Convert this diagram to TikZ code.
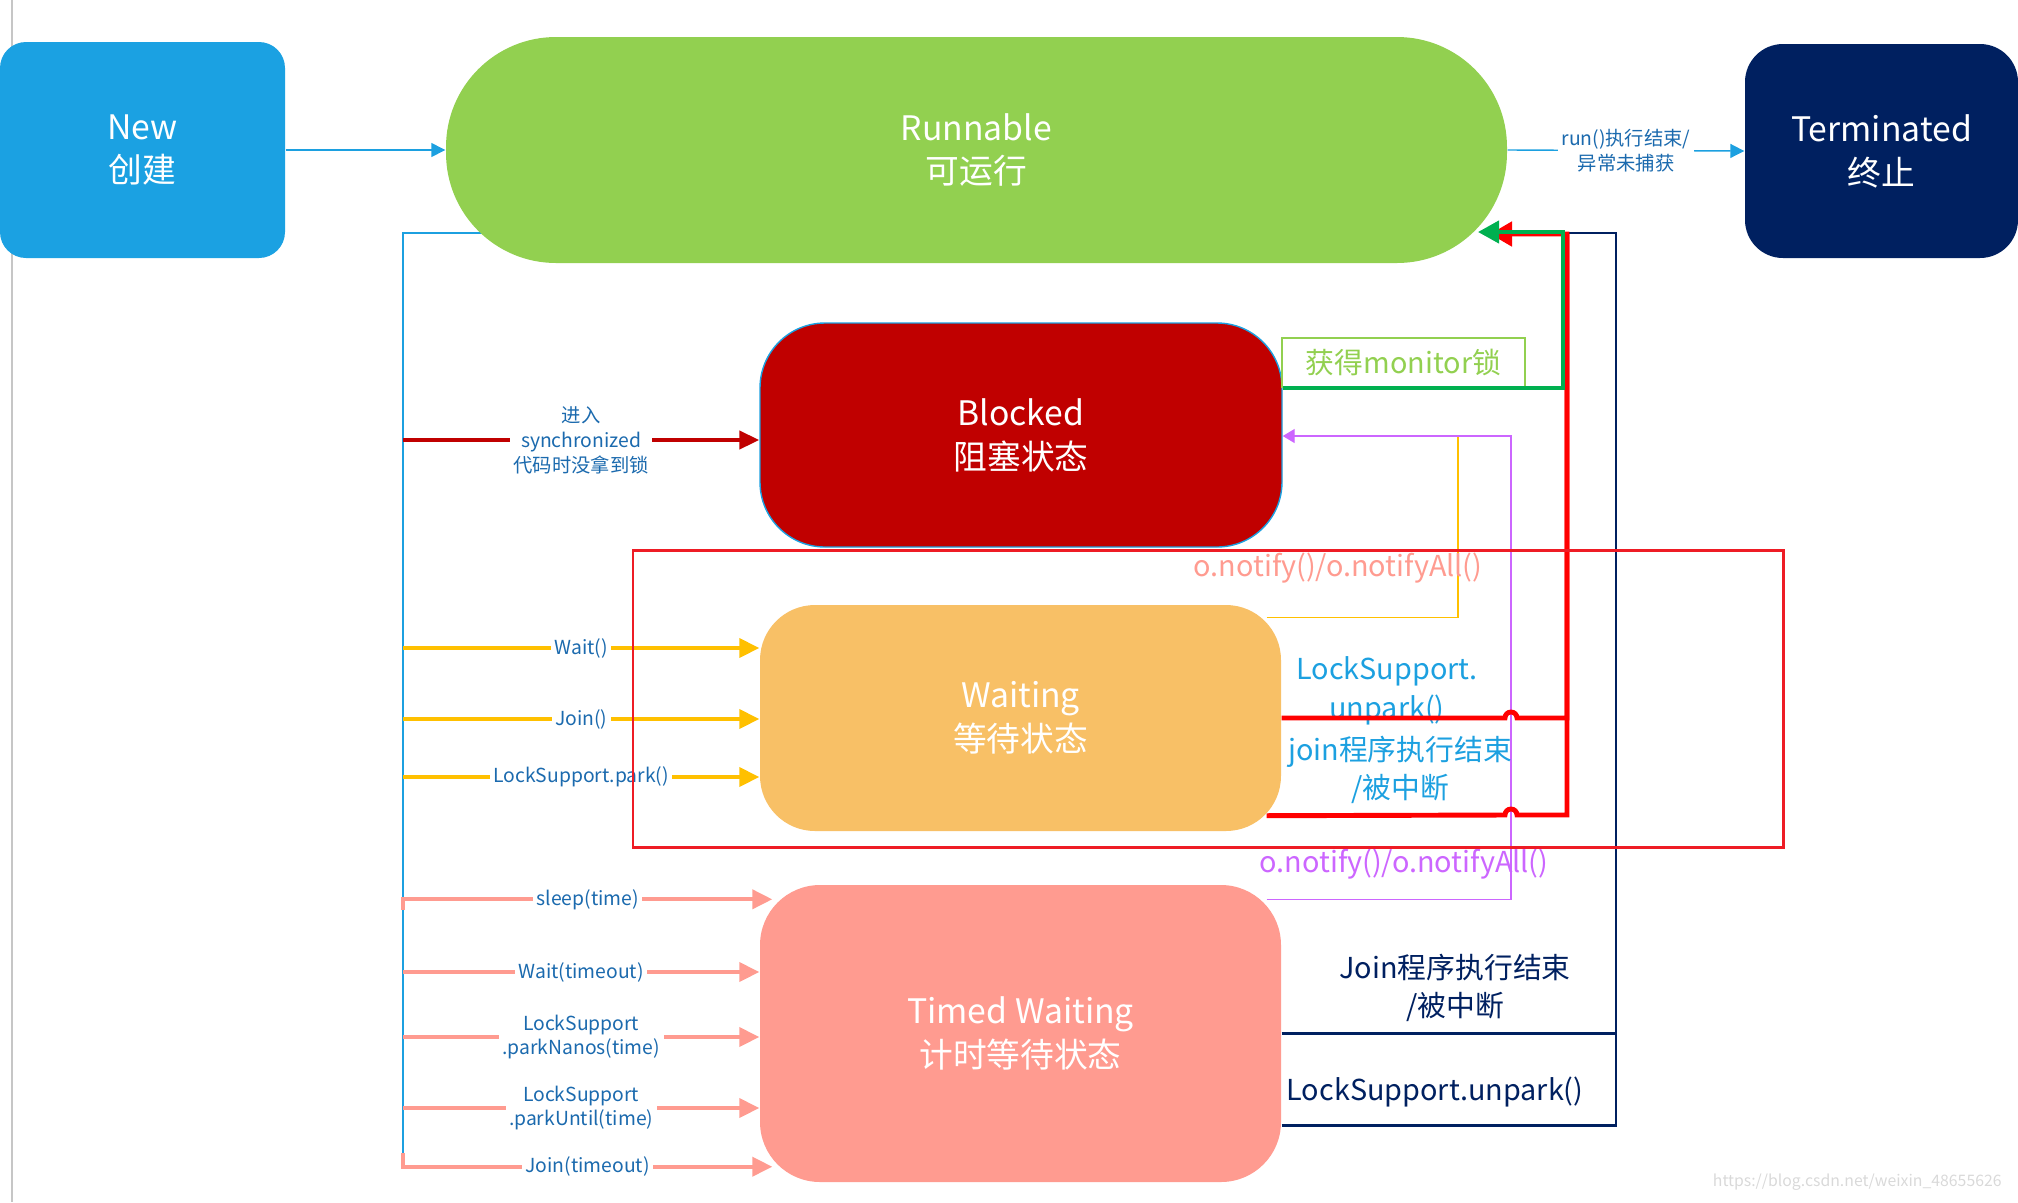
\documentclass[tikz,border=0pt]{standalone}
\usepackage{fontspec}
\setmainfont{Noto Sans CJK SC}
\usetikzlibrary{arrows.meta, positioning, calc, backgrounds}

\definecolor{newblue}{HTML}{1BA1E2}
\definecolor{rungreen}{HTML}{92D050}
\definecolor{termnavy}{HTML}{002060}
\definecolor{blockred}{HTML}{C00000}
\definecolor{waitorange}{HTML}{F8C066}
\definecolor{timedpink}{HTML}{FF9B90}
\definecolor{arrowyellow}{HTML}{FFC000}
\definecolor{labelblue}{HTML}{1B6AAE}
\definecolor{brightblue}{HTML}{1CA0E0}
\definecolor{boxred}{HTML}{EE1C25}
\definecolor{hotred}{HTML}{FF0000}
\definecolor{lockgreen}{HTML}{00B050}
\definecolor{notifyviolet}{HTML}{CC66FF}

\begin{document}
\begin{tikzpicture}[x=0.1mm, y=-0.1mm, >=Latex,
  state/.style={align=center, text=white, inner sep=0pt, font=\fontsize{9.6}{12.5}\selectfont},
  small/.style={align=center, text=labelblue, fill=white, inner sep=1pt, font=\fontsize{5.5}{7.1}\selectfont},
  mid/.style={align=center, inner sep=0pt, font=\fontsize{8.2}{11}\selectfont},
  yellowarrow/.style={arrowyellow, line width=1.1pt, -{Triangle[length=2mm,width=1.9mm]}},
  pinkarrow/.style={timedpink, line width=1.1pt, -{Triangle[length=2mm,width=1.9mm]}}]
\useasboundingbox (0,0) rectangle (2018,1202);
\draw[gray!45] (12,0) -- (12,1202);

% states
\node[state, fill=newblue, rounded corners=2.6mm, minimum width=28.5mm, minimum height=21.6mm] (new) at (142.5,150) {New\\创建};
\node[state, fill=rungreen, rounded corners=11mm, minimum width=106.1mm, minimum height=22.6mm] (run) at (976.5,150) {Runnable\\可运行};
\node[state, fill=termnavy, rounded corners=3.8mm, minimum width=27.3mm, minimum height=21.4mm] (term) at (1881.5,151) {Terminated\\终止};
\node[state, fill=blockred, draw=brightblue, thin, rounded corners=6.5mm, minimum width=52.2mm, minimum height=22.4mm] (blocked) at (1021,435) {Blocked\\阻塞状态};
\node[state, fill=waitorange, rounded corners=5.5mm, minimum width=52.1mm, minimum height=22.6mm] (waiting) at (1020.5,718) {Waiting\\等待状态};
\node[state, fill=timedpink, rounded corners=6mm, minimum width=52.1mm, minimum height=29.7mm] (timed) at (1020.5,1033.5) {Timed Waiting\\计时等待状态};

\draw[brightblue, -{Triangle[length=1.4mm,width=1.4mm]}] (new.east) -- (run.west);
\draw[brightblue, -{Triangle[length=1.4mm,width=1.4mm]}] (run.east) -- node[small]{run()执行结束/\\异常未捕获} (term.west);

% left bus
\coordinate (busTop) at (403,233);
\coordinate (busBot) at (403,1166);
\begin{scope}[on background layer]
\draw[brightblue] (run.center |- busTop) -- (busTop) -- (busBot);
\end{scope}

\coordinate (syncFrom) at (403,440);
\draw[blockred, line width=1.2pt, -{Triangle[length=2mm,width=1.8mm]}] (syncFrom) -- node[small]{进入\\synchronized\\代码时没拿到锁} (blocked.west |- syncFrom);

\foreach \y/\txt [count=\i] in {648/Wait(), 719/Join(), 777/LockSupport.park()} {
  \coordinate (w\i) at (403,\y);
  \draw[yellowarrow] (w\i) -- node[small]{\txt} (waiting.west |- w\i);
}

\foreach \y/\txt [count=\i] in {972/Wait(timeout), 1037/{LockSupport\\.parkNanos(time)}, 1108/{LockSupport\\.parkUntil(time)}} {
  \coordinate (t\i) at (403,\y);
  \draw[pinkarrow] (t\i) -- node[small]{\txt} (timed.west |- t\i);
}
\coordinate (sleepFrom) at (403,910);
\coordinate (joinFrom) at (403,1153);
\draw[pinkarrow] (sleepFrom) |- node[small, pos=0.75]{sleep(time)} ($(timed.north west)+(13,15)$);
\draw[pinkarrow] (joinFrom) |- node[small, pos=0.75]{Join(timeout)} ($(timed.south west)+(13,-16)$);

% notify lines
\coordinate (amberTop) at (1458,436);
\coordinate (violetTop) at (1511,436);
\draw[arrowyellow] ($(waiting.north east)+(-15,13)$) -| (amberTop);
\draw[notifyviolet, -{Triangle[length=1.2mm,width=1.4mm]}] ($(timed.north east)+(-15,15)$) -| (violetTop) -- (blocked.east |- violetTop);
\node[mid, text=timedpink] (notifyA) at (1338,568) {o.notify()/o.notifyAll()};
\node[mid, text=notifyviolet] (notifyB) at (1404,864) {o.notify()/o.notifyAll()};

% back to runnable
\coordinate (riseR) at (1567,234);
\coordinate (runInR) at (1490,234);
\coordinate (riseG) at (1563,232);
\coordinate (runInG) at (1478,232);
\coordinate (navyTop) at (1616,233);
\coordinate (navyJoin) at (1567,233);
\draw[termnavy, line width=0.6pt] (timed.east) -- (navyTop |- timed.east);
\draw[termnavy, line width=0.6pt] ($(timed.east)+(0,92)$) -| (navyTop) -- (navyJoin);

\node[mid, text=brightblue] (unparkA) at (1387,691) {LockSupport.\\unpark()};
\node[mid, text=brightblue] (joinA) at (1400,770) {join程序执行结束\\/被中断};
\node[mid, text=termnavy] (joinB) at (1455,988) {Join程序执行结束\\/被中断};
\node[mid, text=termnavy] (unparkB) at (1435,1092) {LockSupport.unpark()};

\draw[hotred, line width=1.4pt] ($(waiting.south east)+(-15,-16)$) -- (1505,815) arc[start angle=180, end angle=0, radius=0.6mm] -| (riseR);
\draw[hotred, line width=1.4pt, -{Triangle[length=2.2mm,width=2.4mm]}] (waiting.east) -- (1505,718) arc[start angle=180, end angle=0, radius=0.6mm] -| (riseR) -- (runInR);

\node[mid, draw=rungreen, text=rungreen, minimum width=24.3mm, minimum height=4.9mm] (monitor) at (1403.5,362.5) {获得monitor锁};
\draw[lockgreen, line width=1.2pt, -{Triangle[length=2.1mm,width=2.2mm]}] (blocked.east |- monitor.south) -| (riseG) -- (runInG);

% highlight
\draw[boxred, line width=0.85pt] (633,550) rectangle (1783,847);

\node[text=gray!30, anchor=east, font=\fontsize{4.5}{6}\selectfont] (mark) at (2014,1182) {https://blog.csdn.net/weixin\_48655626};
\end{tikzpicture}
\end{document}
